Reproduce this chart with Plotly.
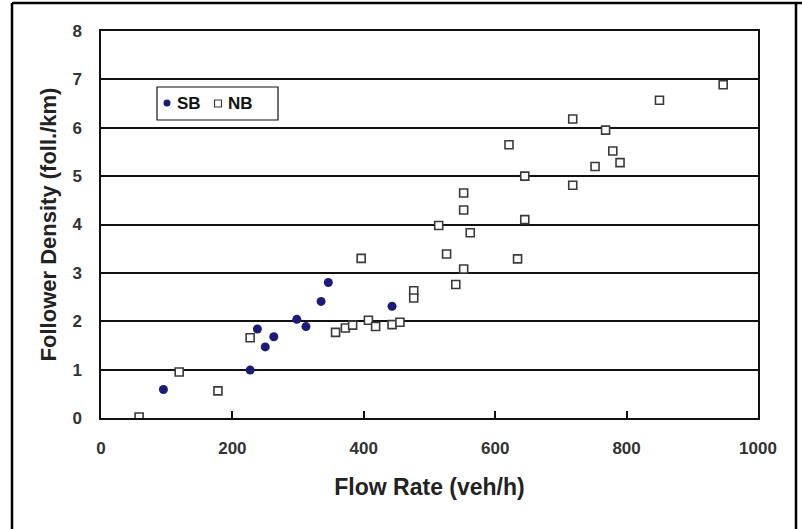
import plotly.graph_objects as go

# Southbound (SB) observations
sb_flow = [95, 227, 238, 250, 263, 298, 312, 335, 346, 443]
sb_density = [0.59, 0.99, 1.84, 1.47, 1.68, 2.04, 1.89, 2.41, 2.80, 2.31]

# Northbound (NB) observations
nb_flow = [58, 119, 178, 227, 357, 372, 383, 396, 407, 418, 443, 455, 476, 476,
           514, 526, 540, 552, 552, 552, 562, 621, 634, 645, 645, 718, 718, 752,
           768, 779, 790, 850, 947]
nb_density = [0.02, 0.95, 0.56, 1.66, 1.77, 1.86, 1.92, 3.30, 2.02, 1.89, 1.93,
              1.98, 2.63, 2.48, 3.98, 3.39, 2.76, 3.08, 4.30, 4.65, 3.83, 5.65,
              3.29, 4.10, 5.00, 4.81, 6.18, 5.20, 5.95, 5.52, 5.28, 6.57, 6.89]

x_ticks = [0, 200, 400, 600, 800, 1000]
y_ticks = [0, 1, 2, 3, 4, 5, 6, 7, 8]
series_names = ["SB", "NB"]

FONT = "Liberation Sans, Arial, sans-serif"
SB_COLOR = "#1b1b78"
NB_LINE = "#3a3a3a"

# plot area in pixels (for converting layout decorations to paper coords)
L, R, T, B, W, H = 101, 758, 31, 418, 802, 529
PW, PH = R - L, B - T


def px(x):
    return (x - L) / PW


def py(y):
    return (B - y) / PH


fig = go.Figure()
fig.add_trace(go.Scatter(
    x=sb_flow, y=sb_density, mode="markers", name=series_names[0],
    marker=dict(symbol="circle", size=9, color=SB_COLOR, line=dict(width=0)),
))
fig.add_trace(go.Scatter(
    x=nb_flow, y=nb_density, mode="markers", name=series_names[1],
    marker=dict(symbol="square", size=8, color="white",
                line=dict(width=1.6, color=NB_LINE)),
))

legend_font = dict(family=FONT, size=17, weight="bold", color="#111111")

fig.update_layout(
    width=W, height=H,
    margin=dict(l=L, r=W - R, t=T, b=H - B),
    paper_bgcolor="white", plot_bgcolor="white",
    font=dict(family=FONT, color="#222222"),
    showlegend=False,
    xaxis=dict(
        range=[0, 1000], tickvals=x_ticks, ticktext=[str(v) for v in x_ticks],
        showgrid=False, zeroline=False,
        showline=True, linecolor="#111111", linewidth=1.5, mirror=True,
        ticks="inside", ticklen=7, tickwidth=1.5, tickcolor="#111111",
        tickfont=dict(family=FONT, size=17, weight="bold", color="#333333"),
        ticklabelstandoff=14,
        title=dict(text="Flow Rate (veh/h)", standoff=22,
                   font=dict(family=FONT, size=23, weight="bold", color="#222222")),
    ),
    yaxis=dict(
        range=[0, 8], tickvals=y_ticks, ticktext=[str(v) for v in y_ticks],
        showgrid=True, gridcolor="#111111", gridwidth=1.6, zeroline=False,
        showline=True, linecolor="#111111", linewidth=1.5, mirror=True,
        ticks="", ticklabelstandoff=14,
        tickfont=dict(family=FONT, size=17, weight="bold", color="#333333"),
        title=dict(text="Follower Density (foll./km)", standoff=10,
                   font=dict(family=FONT, size=22, weight="bold", color="#222222")),
    ),
    shapes=[
        # outer frame
        dict(type="line", xref="x domain", yref="y domain",
             x0=px(12), x1=px(12), y0=py(H + 5), y1=py(3),
             line=dict(color="black", width=2.5)),
        dict(type="line", xref="x domain", yref="y domain",
             x0=px(12), x1=px(W + 5), y0=py(3), y1=py(3),
             line=dict(color="black", width=2.5)),
        dict(type="line", xref="x domain", yref="y domain",
             x0=px(796), x1=px(796), y0=py(H + 5), y1=py(3),
             line=dict(color="black", width=2.5)),
        # legend box
        dict(type="rect", xref="x domain", yref="y domain",
             x0=px(157), x1=px(278), y0=py(120), y1=py(87),
             fillcolor="white", line=dict(color="#111111", width=1.2)),
        # legend symbols
        dict(type="circle", xref="x domain", yref="y domain",
             x0=px(163.5), x1=px(170.5), y0=py(106.5), y1=py(99.5),
             fillcolor=SB_COLOR, line=dict(width=0)),
        dict(type="rect", xref="x domain", yref="y domain",
             x0=px(214.5), x1=px(221.5), y0=py(107), y1=py(100),
             fillcolor="white", line=dict(color=NB_LINE, width=1.2)),
    ],
    annotations=[
        dict(text=series_names[0], xref="x domain", yref="y domain",
             x=px(175), y=py(103.5), xanchor="left", yanchor="middle",
             showarrow=False, font=legend_font),
        dict(text=series_names[1], xref="x domain", yref="y domain",
             x=px(226), y=py(103.5), xanchor="left", yanchor="middle",
             showarrow=False, font=legend_font),
    ],
)

fig.write_html("out.html")
